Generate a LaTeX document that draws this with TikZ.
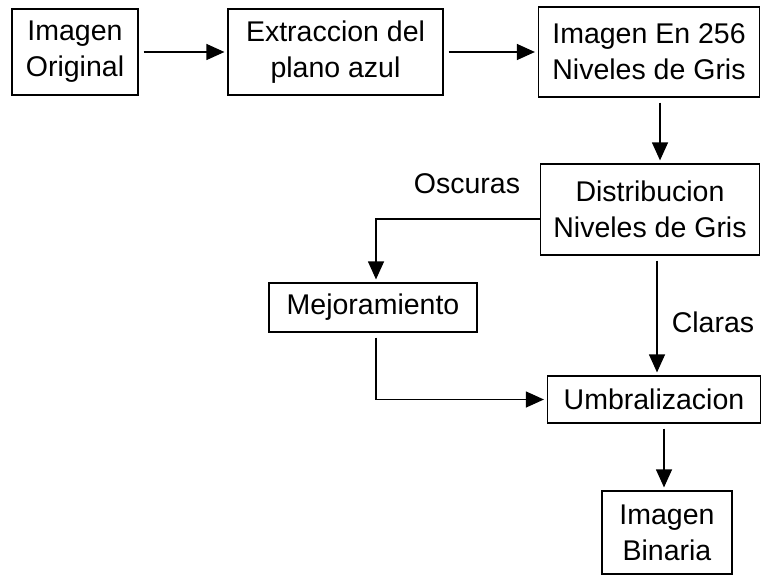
\documentclass[tikz,border=0pt]{standalone}
\usepackage{fontspec}
\setmainfont{Liberation Sans}
\usetikzlibrary{arrows.meta}

\begin{document}
\begin{tikzpicture}[x=1pt, y=-1pt,
    caja/.style={draw, rectangle, line width=1.2pt, inner sep=0pt, align=center, font=\fontsize{28.5}{36}\selectfont},
    flecha/.style={line width=1.2pt, -{Triangle[length=18pt, width=16pt]}, shorten >=3pt, shorten <=5pt},
    etiqueta/.style={inner sep=0pt, font=\fontsize{28.5}{36}\selectfont}]
    \useasboundingbox (0,0) rectangle (762,575);

    % Nodos
    \node[caja, minimum width=126pt, minimum height=86pt] (orig) at (75, 52) {Imagen\\Original};
    \node[caja, minimum width=215pt, minimum height=86pt] (azul) at (335.5, 52) {Extraccion del\\plano azul};
    \node[caja, minimum width=221pt, minimum height=90pt] (gris) at (649, 52) {Imagen En 256\\Niveles de Gris};
    \node[caja, minimum width=219pt, minimum height=91pt] (dist) at (650, 209.5) {Distribucion\\Niveles de Gris};
    \node[caja, minimum width=208pt, minimum height=49pt] (mejora) at (373, 307.5) {Mejoramiento};
    \node[caja, minimum width=213pt, minimum height=47pt] (umbral) at (654, 399.5) {Umbralizacion};
    \node[caja, minimum width=130pt, minimum height=83pt] (binaria) at (667, 532.5) {Imagen\\Binaria};

    % Etiquetas
    \node[etiqueta] (oscuras) at (467, 184) {Oscuras};
    \node[etiqueta] (claras) at (713, 322) {Claras};

    % Conexiones
    \draw[flecha] (orig) -- (azul);
    \draw[flecha] (azul) -- (gris);
    \draw[flecha] ([xshift=11pt]gris.south) -- ([xshift=10pt]dist.north);
    \draw[flecha, shorten <=0pt] ([yshift=-9.5pt]dist.west) -| ([xshift=3pt]mejora.north);
    \draw[flecha] ([xshift=3pt]mejora.south) |- (umbral.west);
    \draw[flecha] ([xshift=7pt]dist.south) -- ([xshift=3pt]umbral.north);
    \draw[flecha] ([xshift=10pt]umbral.south) -- ([xshift=-3pt]binaria.north);
\end{tikzpicture}
\end{document}
